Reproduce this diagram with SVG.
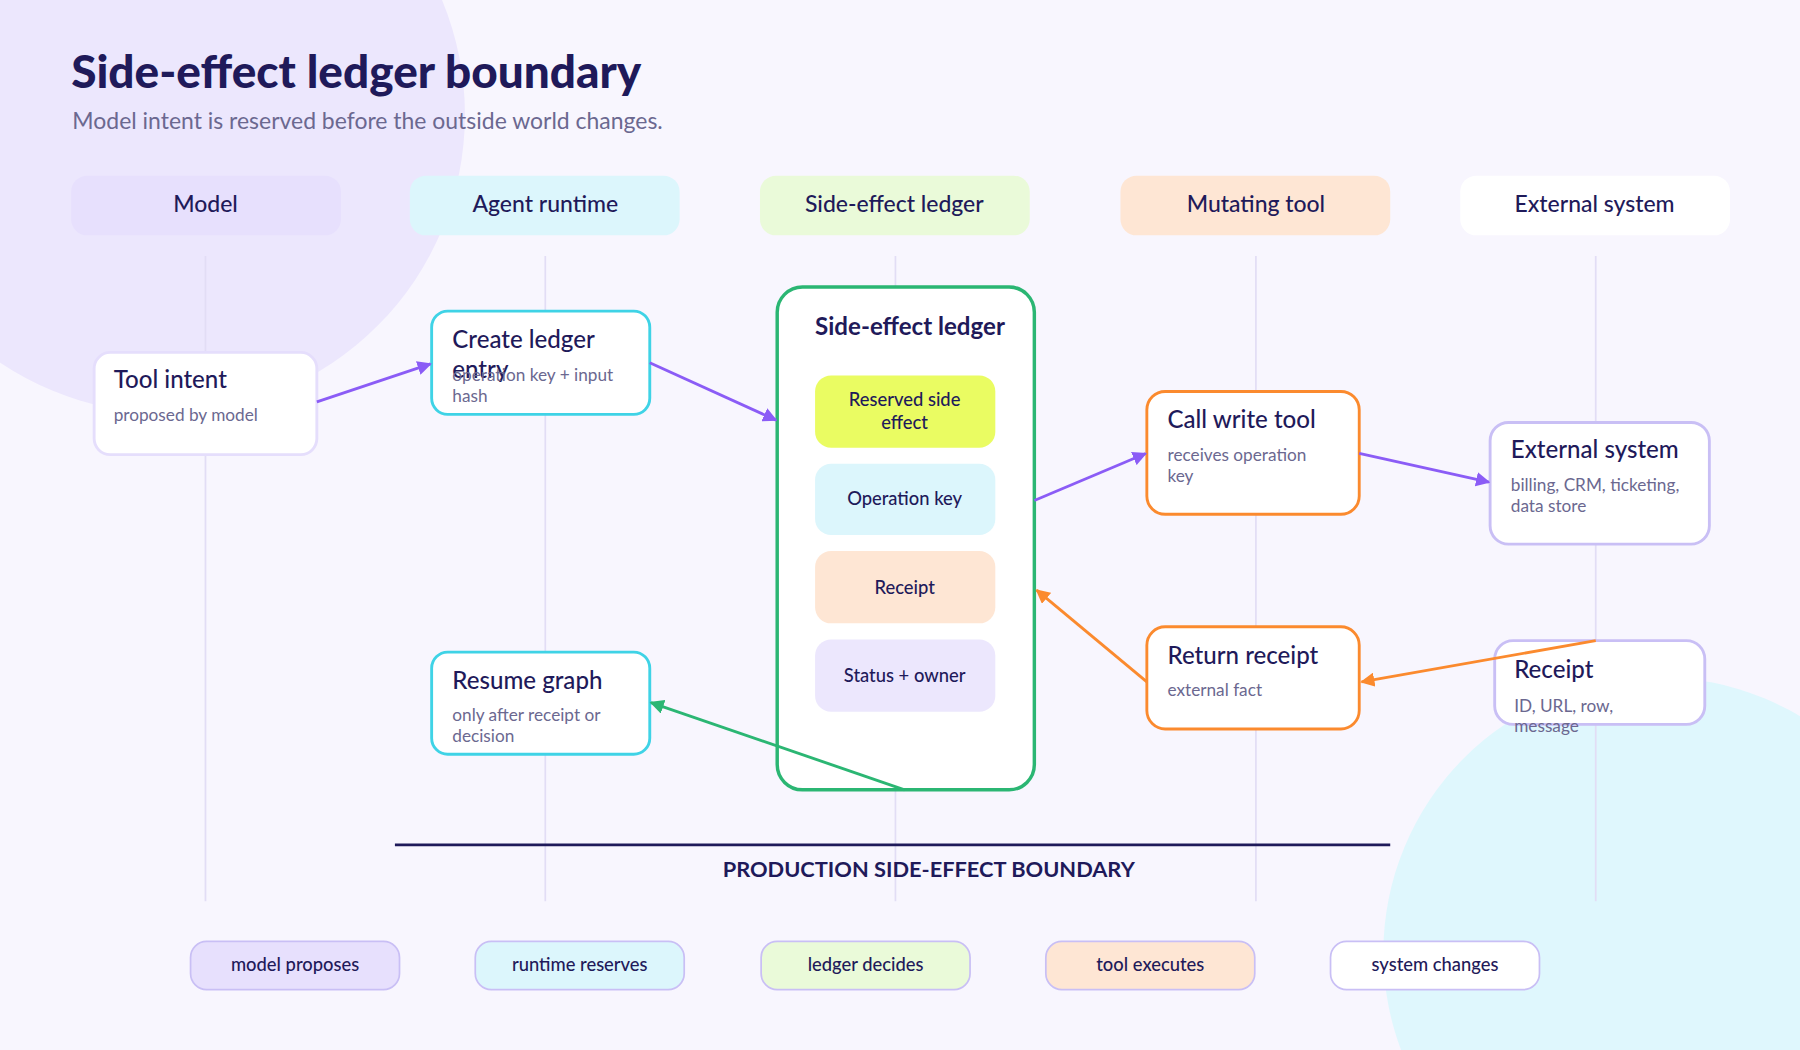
<svg xmlns="http://www.w3.org/2000/svg" width="1800" height="1050" viewBox="0 0 1800 1050">
<style>
text{font-family:Lato,"Noto Sans","Liberation Sans",sans-serif;fill:#1f1a5a}
.lane{font-size:20px;font-weight:500;text-anchor:middle}
.lline{stroke:#e2ddf5;stroke-width:1.5}
.nt{font-size:21px;font-weight:500}
.ns{font-size:15px;fill:#6b6890}
.it{font-size:16px;font-weight:500;text-anchor:middle}
.pill{font-size:16px;font-weight:500;text-anchor:middle}
.c{fill:none;stroke-width:2.5}
</style>
<defs>
<marker id="ap" viewBox="0 0 10 10" refX="9" refY="5" markerWidth="5" markerHeight="5" orient="auto"><path d="M0,0L10,5L0,10z" fill="#8b5cf6"/></marker>
<marker id="ao" viewBox="0 0 10 10" refX="9" refY="5" markerWidth="5" markerHeight="5" orient="auto"><path d="M0,0L10,5L0,10z" fill="#fb8a2e"/></marker>
<marker id="ag" viewBox="0 0 10 10" refX="9" refY="5" markerWidth="5" markerHeight="5" orient="auto"><path d="M0,0L10,5L0,10z" fill="#2bb673"/></marker>
</defs>
<g transform="scale(1.148)">
<rect x="0" y="0" width="1568" height="915" fill="#f8f6fe"/>
<circle cx="145" cy="100" r="260" fill="#ece7fd"/>
<circle cx="1445" cy="830" r="240" fill="#dff7fd"/>
<text x="62" y="77" font-size="40" font-weight="900">Side-effect ledger boundary</text>
<text x="63" y="112" font-size="20" style="fill:#6b6890">Model intent is reserved before the outside world changes.</text>
<g id="lanes">
<rect x="62" y="153" width="235" height="52" rx="14" fill="#e7e0fd"/><text class="lane" x="179" y="185">Model</text>
<rect x="357" y="153" width="235" height="52" rx="14" fill="#dcf6fc"/><text class="lane" x="475" y="185">Agent runtime</text>
<rect x="662" y="153" width="235" height="52" rx="14" fill="#eafad9"/><text class="lane" x="779" y="185">Side-effect ledger</text>
<rect x="976" y="153" width="235" height="52" rx="14" fill="#fee6d4"/><text class="lane" x="1094" y="185">Mutating tool</text>
<rect x="1272" y="153" width="235" height="52" rx="14" fill="#ffffff"/><text class="lane" x="1389" y="185">External system</text>
<line class="lline" x1="179" y1="223" x2="179" y2="785"/>
<line class="lline" x1="475" y1="223" x2="475" y2="785"/>
<line class="lline" x1="780" y1="223" x2="780" y2="785"/>
<line class="lline" x1="1094" y1="223" x2="1094" y2="785"/>
<line class="lline" x1="1390" y1="223" x2="1390" y2="785"/>
</g>
<g id="tool-intent"><rect x="82" y="307" width="194" height="89" rx="14" fill="#fff" stroke="#e5defc" stroke-width="2.5"/><text class="nt" x="99" y="338">Tool intent</text><text class="ns" x="99" y="367">proposed by model</text></g>
<g id="create-ledger"><rect x="376" y="271" width="190" height="90" rx="14" fill="#fff" stroke="#3fd3e6" stroke-width="2.5"/><text class="nt" x="394" y="303">Create ledger</text><text class="nt" x="394" y="329">entry</text><text class="ns" x="394" y="332">operation key + input</text><text class="ns" x="394" y="350">hash</text></g>
<g id="ledger"><rect x="677" y="250" width="224" height="438" rx="22" fill="#fff" stroke="#2bb673" stroke-width="3"/><text x="710" y="292" font-size="21" font-weight="700">Side-effect ledger</text>
<rect x="710" y="327" width="157" height="63" rx="14" fill="#eafc62"/><text class="it" x="788" y="354">Reserved side</text><text class="it" x="788" y="374">effect</text>
<rect x="710" y="404" width="157" height="62" rx="14" fill="#dcf6fc"/><text class="it" x="788" y="440">Operation key</text>
<rect x="710" y="480" width="157" height="63" rx="14" fill="#fee6d4"/><text class="it" x="788" y="517">Receipt</text>
<rect x="710" y="557" width="157" height="63" rx="14" fill="#ece7fd"/><text class="it" x="788" y="594">Status + owner</text></g>
<g id="call-write"><rect x="999" y="341" width="185" height="107" rx="16" fill="#fff" stroke="#fb8a2e" stroke-width="2.5"/><text class="nt" x="1017" y="373">Call write tool</text><text class="ns" x="1017" y="402">receives operation</text><text class="ns" x="1017" y="420">key</text></g>
<g id="external"><rect x="1298" y="368" width="191" height="106" rx="16" fill="#fff" stroke="#c9bff5" stroke-width="2.5"/><text class="nt" x="1316" y="399">External system</text><text class="ns" x="1316" y="428">billing, CRM, ticketing,</text><text class="ns" x="1316" y="446">data store</text></g>
<g id="return-receipt"><rect x="999" y="546" width="185" height="89" rx="16" fill="#fff" stroke="#fb8a2e" stroke-width="2.5"/><text class="nt" x="1017" y="578">Return receipt</text><text class="ns" x="1017" y="606">external fact</text></g>
<g id="receipt"><rect x="1302" y="558" width="183" height="73" rx="16" fill="#fff" stroke="#c9bff5" stroke-width="2.5"/><text class="nt" x="1319" y="591">Receipt</text><text class="ns" x="1319" y="620">ID, URL, row,</text><text class="ns" x="1319" y="638">message</text></g>
<g id="resume"><rect x="376" y="568" width="190" height="89" rx="14" fill="#fff" stroke="#3fd3e6" stroke-width="2.5"/><text class="nt" x="394" y="600">Resume graph</text><text class="ns" x="394" y="628">only after receipt or</text><text class="ns" x="394" y="646">decision</text></g>
<g id="connectors">
<line class="c" stroke="#8b5cf6" x1="276" y1="350" x2="375" y2="317" marker-end="url(#ap)"/>
<line class="c" stroke="#8b5cf6" x1="566" y1="316" x2="676" y2="366" marker-end="url(#ap)"/>
<line class="c" stroke="#8b5cf6" x1="901" y1="436" x2="998" y2="395" marker-end="url(#ap)"/>
<line class="c" stroke="#8b5cf6" x1="1184" y1="395" x2="1297" y2="420" marker-end="url(#ap)"/>
<line class="c" stroke="#fb8a2e" x1="999" y1="594" x2="903" y2="514" marker-end="url(#ao)"/>
<line class="c" stroke="#fb8a2e" x1="1390" y1="558" x2="1186" y2="594" marker-end="url(#ao)"/>
<line class="c" stroke="#2bb673" x1="788" y1="688" x2="567" y2="612" marker-end="url(#ag)"/>
</g>
<g id="boundary"><line x1="344" y1="736" x2="1211" y2="736" stroke="#1f1a5a" stroke-width="2.5"/><text x="809" y="764" font-size="19" font-weight="700" text-anchor="middle">PRODUCTION SIDE-EFFECT BOUNDARY</text></g>
<g id="legend">
<rect x="166" y="820" width="182" height="42" rx="14" fill="#e7e0fd" stroke="#c9bff5" stroke-width="1.5"/><text class="pill" x="257" y="846">model proposes</text>
<rect x="414" y="820" width="182" height="42" rx="14" fill="#dcf6fc" stroke="#c9bff5" stroke-width="1.5"/><text class="pill" x="505" y="846">runtime reserves</text>
<rect x="663" y="820" width="182" height="42" rx="14" fill="#eafad9" stroke="#c9bff5" stroke-width="1.5"/><text class="pill" x="754" y="846">ledger decides</text>
<rect x="911" y="820" width="182" height="42" rx="14" fill="#fee6d4" stroke="#c9bff5" stroke-width="1.5"/><text class="pill" x="1002" y="846">tool executes</text>
<rect x="1159" y="820" width="182" height="42" rx="14" fill="#fff" stroke="#c9bff5" stroke-width="1.5"/><text class="pill" x="1250" y="846">system changes</text>
</g>
</g>
</svg>
